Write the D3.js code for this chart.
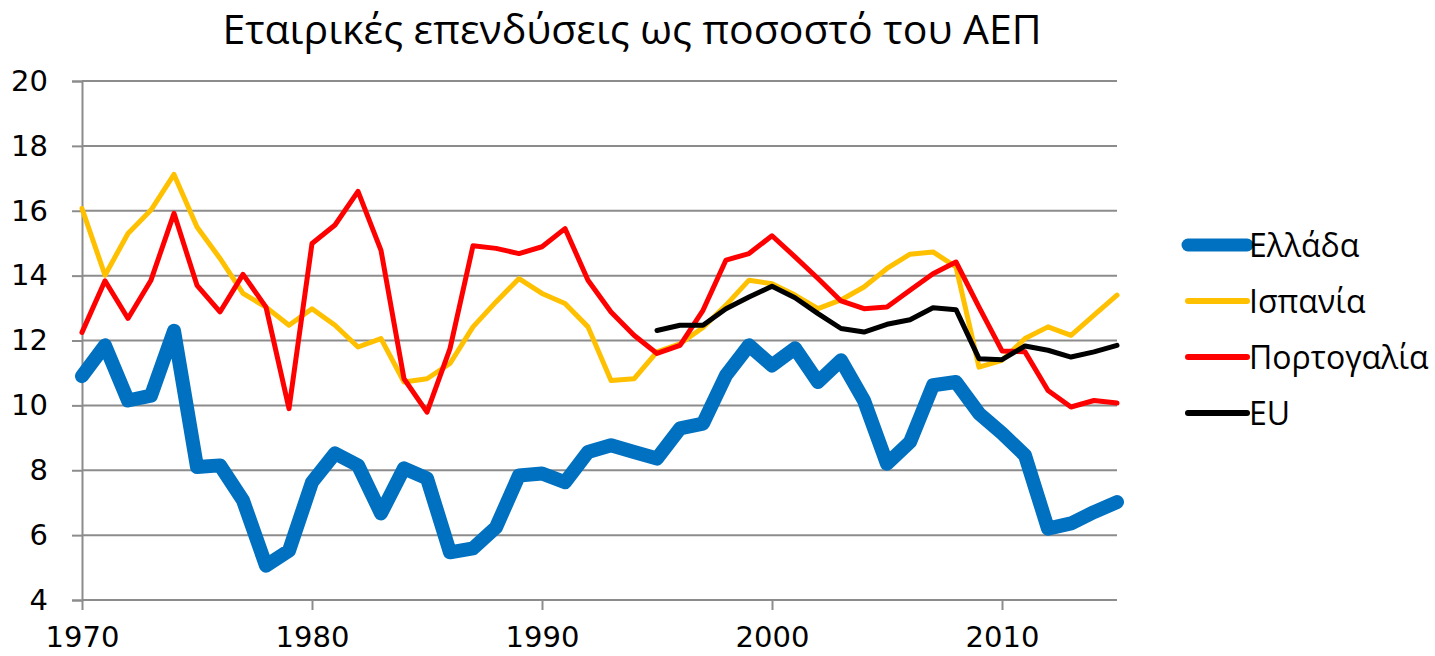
<!DOCTYPE html>
<html lang="el">
<head>
  <meta charset="UTF-8">
  <title>Εταιρικές επενδύσεις ως ποσοστό του ΑΕΠ</title>
  <script src="https://d3js.org/d3.v7.min.js"></script>
  <style>
    body {
      margin: 0;
      padding: 0;
      background: #fff;
    }
    svg {
      display: block;
    }
    .title {
      font-family: "Open Sans", "Noto Sans", sans-serif;
      font-size: 41px;
    }
    .tick text {
      font-family: "DejaVu Sans", sans-serif;
      font-size: 29px;
      fill: #000;
    }
    .legend text {
      font-family: "Open Sans", "Noto Sans", sans-serif;
      font-size: 32px;
    }
  </style>
</head>
<body>
  <svg width="1435" height="656"></svg>

  <script>
    const years = d3.range(1970, 2016);

    // values, % of GDP
    const greece = [10.9, 11.85, 10.15, 10.3, 12.3, 8.1, 8.15, 7.07, 5.06, 5.52,
      7.63, 8.52, 8.15, 6.67, 8.06, 7.75, 5.47, 5.59, 6.24, 7.84,
      7.9, 7.63, 8.56, 8.77, 8.56, 8.36, 9.29, 9.44, 10.93, 11.85,
      11.23, 11.76, 10.72, 11.39, 10.15, 8.2, 8.87, 10.62, 10.72, 9.75,
      9.14, 8.46, 6.2, 6.36, 6.71, 7.02];

    const spain = [16.07, 14.01, 15.3, 16.02, 17.12, 15.5, 14.53, 13.45, 13.03, 12.47,
      12.98, 12.47, 11.8, 12.06, 10.72, 10.82, 11.29, 12.42, 13.19, 13.91,
      13.45, 13.14, 12.42, 10.77, 10.82, 11.65, 11.9, 12.4, 13.09, 13.86,
      13.75, 13.4, 12.98, 13.25, 13.65, 14.22, 14.66, 14.73, 14.27, 11.18,
      11.39, 12.06, 12.42, 12.16, 12.78, 13.4];

    const portugal = [12.25, 13.84, 12.68, 13.86, 15.92, 13.7, 12.88, 14.04, 13.03, 9.9,
      14.99, 15.56, 16.6, 14.78, 10.82, 9.79, 11.75, 14.92, 14.84, 14.68,
      14.89, 15.45, 13.86, 12.88, 12.16, 11.6, 11.85, 12.93, 14.48, 14.68,
      15.23, 14.58, 13.91, 13.22, 12.98, 13.03, 13.55, 14.06, 14.42, 13.03,
      11.68, 11.65, 10.46, 9.95, 10.15, 10.07];

    // EU series starts in 1995
    const euYears = d3.range(1995, 2016);
    const eu = [12.31, 12.47, 12.47, 12.98, 13.34, 13.67, 13.32, 12.83, 12.37, 12.26,
      12.5, 12.64, 13.01, 12.95, 11.44, 11.41, 11.83, 11.7, 11.49, 11.65, 11.85];

    const yTicks = [4, 6, 8, 10, 12, 14, 16, 18, 20];
    const xTicks = [1970, 1980, 1990, 2000, 2010];

    const series = [
      { name: "Ελλάδα", years: years, values: greece, color: "#0070C0", width: 14 },
      { name: "Ισπανία", years: years, values: spain, color: "#FFC000", width: 5 },
      { name: "Πορτογαλία", years: years, values: portugal, color: "#FF0000", width: 5 },
      { name: "EU", years: euYears, values: eu, color: "#000000", width: 5 }
    ];

    const svg = d3.select("svg");
    const plotLeft = 82, plotRight = 1117, plotTop = 81, plotBottom = 600;

    const x = d3.scaleLinear().domain([1970, 2015]).range([plotLeft, plotRight]);
    const y = d3.scaleLinear().domain([4, 20]).range([plotBottom, plotTop]);

    svg.append("text")
      .attr("class", "title")
      .attr("x", 632)
      .attr("y", 44)
      .attr("text-anchor", "middle")
      .text("Εταιρικές επενδύσεις ως ποσοστό του ΑΕΠ");

    // horizontal gridlines
    svg.append("g")
      .selectAll("line")
      .data(yTicks)
      .enter().append("line")
      .attr("x1", plotLeft)
      .attr("x2", plotRight)
      .attr("y1", d => y(d))
      .attr("y2", d => y(d))
      .attr("stroke", "#8c8c8c")
      .attr("stroke-width", 2);

    const yAxis = svg.append("g")
      .attr("transform", `translate(${plotLeft},0)`)
      .call(d3.axisLeft(y).tickValues(yTicks).tickSize(10).tickPadding(24));

    const xAxis = svg.append("g")
      .attr("transform", `translate(0,${plotBottom})`)
      .call(d3.axisBottom(x).tickValues(xTicks).tickFormat(d3.format("d")).tickSize(10).tickPadding(16));

    [yAxis, xAxis].forEach(a => {
      a.select(".domain").attr("stroke", "#8c8c8c").attr("stroke-width", 2);
      a.selectAll(".tick line").attr("stroke", "#8c8c8c").attr("stroke-width", 2);
    });
    xAxis.select(".domain").remove();

    const line = d3.line()
      .x(d => x(d[0]))
      .y(d => y(d[1]));

    const plot = svg.append("g");
    series.forEach(s => {
      plot.append("path")
        .datum(d3.zip(s.years, s.values))
        .attr("fill", "none")
        .attr("stroke", s.color)
        .attr("stroke-width", s.width)
        .attr("stroke-linejoin", "round")
        .attr("stroke-linecap", "round")
        .attr("d", line);
    });

    // legend
    const legend = svg.append("g").attr("class", "legend");
    const item = legend.selectAll("g")
      .data(series)
      .enter().append("g")
      .attr("transform", (d, i) => `translate(1188,${245 + i * 56})`);

    item.append("line")
      .attr("x1", 0)
      .attr("x2", 59)
      .attr("stroke", d => d.color)
      .attr("stroke-width", d => d.width === 14 ? 13 : 6)
      .attr("stroke-linecap", "round");

    item.append("text")
      .attr("x", 61)
      .attr("y", 12)
      .text(d => d.name);
  </script>
</body>
</html>
